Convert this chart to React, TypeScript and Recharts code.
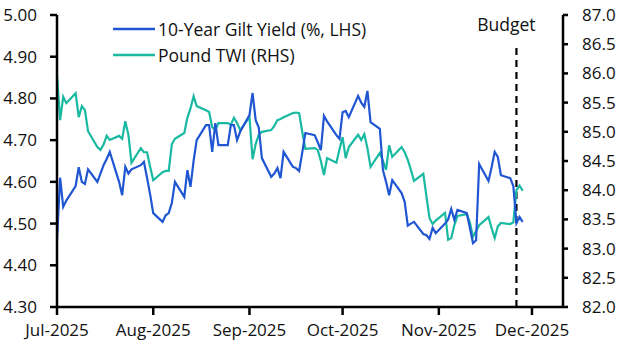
import React from 'react';
import { LineChart, Line, XAxis, YAxis, Legend, ReferenceLine } from 'recharts';

// trading days counted from 1 Jul 2025 (day 0), up to 28 Nov 2025
const lastDay = 150;
const firstWeekday = 2; // 1 Jul 2025 was a Tuesday

const monthTicks = [0, 31, 62, 92, 123, 153];
const monthLabels = ['Jul-2025', 'Aug-2025', 'Sep-2025', 'Oct-2025', 'Nov-2025', 'Dec-2025'];

const leftTicks = [4.3, 4.4, 4.5, 4.6, 4.7, 4.8, 4.9, 5.0];
const rightTicks = [82, 82.5, 83, 83.5, 84, 84.5, 85, 85.5, 86, 86.5, 87];

const budgetDay = 148; // 26 Nov 2025

const gilt = [
    // Jul
    4.46, 4.61, 4.54, 4.555, 4.59, 4.635, 4.60, 4.595, 4.63, 4.60, 4.62, 4.64, 4.655, 4.672, 4.60, 4.568, 4.636, 4.62, 4.63, 4.64, 4.648, 4.61, 4.57,
    // Aug
    4.525, 4.504, 4.52, 4.525, 4.55, 4.60, 4.564, 4.628, 4.588, 4.65, 4.70, 4.736, 4.736, 4.672, 4.741, 4.688, 4.688, 4.736, 4.736, 4.70, 4.72,
    // Sep
    4.76, 4.813, 4.748, 4.73, 4.657, 4.612, 4.62, 4.633, 4.609, 4.672, 4.636, 4.633, 4.626, 4.67, 4.717, 4.712, 4.695, 4.676, 4.758, 4.745, 4.712, 4.703,
    // Oct
    4.767, 4.77, 4.755, 4.806, 4.79, 4.78, 4.818, 4.743, 4.727, 4.628, 4.60, 4.568, 4.604, 4.573, 4.552, 4.495, 4.50, 4.504, 4.475, 4.472, 4.463, 4.49, 4.477,
    // Nov
    4.50, 4.51, 4.535, 4.509, 4.533, 4.525, 4.49, 4.453, 4.46, 4.643, 4.602, 4.635, 4.672, 4.66, 4.616, 4.609, 4.59, 4.501, 4.516, 4.504,
];

const twi = [
    // Jul
    85.97, 85.20, 85.60, 85.49, 85.66, 85.25, 85.44, 85.37, 85.01, 84.74, 84.69, 84.78, 84.93, 84.86, 84.93, 84.88, 85.18, 84.95, 84.47, 84.72, 84.65, 84.65, 84.40,
    // Aug
    84.17, 84.31, 84.33, 84.33, 84.79, 84.88, 84.98, 85.24, 85.40, 85.61, 85.44, 85.37, 85.34, 85.08, 85.03, 85.15, 85.15, 85.12, 85.24, 85.15, 85.03,
    // Sep
    85.25, 84.53, 84.79, 84.95, 85.00, 85.03, 85.10, 85.20, 85.22, 85.25, 85.32, 85.33, 85.32, 85.00, 84.71, 84.72, 84.69, 84.50, 84.26, 84.55, 84.47, 84.70,
    // Oct
    84.91, 84.55, 84.74, 84.95, 84.86, 84.96, 84.72, 84.40, 84.64, 84.50, 84.35, 84.77, 84.57, 84.74, 84.65, 84.52, 84.35, 84.16, 84.28, 83.90, 83.52, 83.42, 83.48,
    // Nov
    83.61, 83.15, 83.18, 83.40, 83.56, 83.59, 83.45, 83.20, 83.30, 83.40, 83.54, 83.35, 83.18, 83.38, 83.44, 83.42, 83.45, 84.00, 84.08, 83.99,
];

const days: number[] = [];
for (let d = 0; d <= lastDay; d++) {
    const wd = (firstWeekday + d) % 7;
    if (wd !== 0 && wd !== 6) days.push(d);
}

const data = days.map((day, i) => ({ day, gilt: gilt[i], twi: twi[i] }));

const BLUE = '#2056d2';
const TEAL = '#19b9a2';
const FONT = "'Open Sans', sans-serif";
const tickStyle = { fill: '#111', fontSize: 17, fontFamily: FONT };
const axisStroke = { stroke: '#000', strokeWidth: 2.5 };

const LegendBox = () => (
    <div style={{ fontFamily: FONT, fontSize: 17.5, color: '#111' }}>
        {[{ label: '10-Year Gilt Yield (%, LHS)', color: BLUE }, { label: 'Pound TWI (RHS)', color: TEAL }].map((r) => (
            <div key={r.label} style={{ display: 'flex', alignItems: 'center', height: 26 }}>
                <svg width={45} height={4}>
                    <line x1={0} y1={2} x2={42} y2={2} stroke={r.color} strokeWidth={2.5} />
                </svg>
                <span style={{ whiteSpace: 'nowrap' }}>{r.label}</span>
            </div>
        ))}
    </div>
);

export default function App() {
    return (
        <div style={{ width: 629, height: 355 }}>
            <style>{'body{margin:0}'}</style>
            <LineChart width={629} height={355} data={data} margin={{ top: 15, right: 0, bottom: 0, left: 0 }}>
                <XAxis
                    dataKey="day"
                    type="number"
                    domain={[0, 163]}
                    ticks={monthTicks}
                    tickFormatter={(v) => monthLabels[monthTicks.indexOf(v)]}
                    height={48}
                    tickSize={8}
                    tickMargin={9}
                    tick={tickStyle}
                    axisLine={axisStroke}
                    tickLine={axisStroke}
                    interval={0}
                />
                <YAxis
                    yAxisId="left"
                    domain={[4.3, 5.0]}
                    ticks={leftTicks}
                    tickFormatter={(v) => v.toFixed(2)}
                    width={57}
                    tickSize={7}
                    tickMargin={13}
                    tick={tickStyle}
                    axisLine={axisStroke}
                    tickLine={axisStroke}
                    interval={0}
                />
                <YAxis
                    yAxisId="right"
                    orientation="right"
                    domain={[82, 87]}
                    ticks={rightTicks}
                    tickFormatter={(v) => v.toFixed(1)}
                    width={66}
                    tickSize={5}
                    tickMargin={14}
                    tick={tickStyle}
                    axisLine={axisStroke}
                    tickLine={axisStroke}
                    interval={0}
                />
                <Legend
                    layout="vertical"
                    align="center"
                    verticalAlign="middle"
                    wrapperStyle={{ top: 16, left: 113, width: 'auto' }}
                    content={() => <LegendBox />}
                />
                <ReferenceLine
                    yAxisId="left"
                    segment={[{ x: budgetDay, y: 4.3 }, { x: budgetDay, y: 4.925 }]}
                    stroke="#000"
                    strokeWidth={2.2}
                    strokeDasharray="7 5"
                    label={(props: any) => {
                        const vb = props.viewBox || {};
                        const top = Math.min(vb.y, vb.y + (vb.height || 0));
                        return (
                            <text x={vb.x - 10} y={top - 15} textAnchor="middle" fill="#111" fontSize={17.5} fontFamily={FONT}>
                                Budget
                            </text>
                        );
                    }}
                />
                <Line yAxisId="right" type="linear" dataKey="twi" stroke={TEAL} strokeWidth={2.2} dot={false} isAnimationActive={false} />
                <Line yAxisId="left" type="linear" dataKey="gilt" stroke={BLUE} strokeWidth={2.2} dot={false} isAnimationActive={false} />
            </LineChart>
        </div>
    );
}
